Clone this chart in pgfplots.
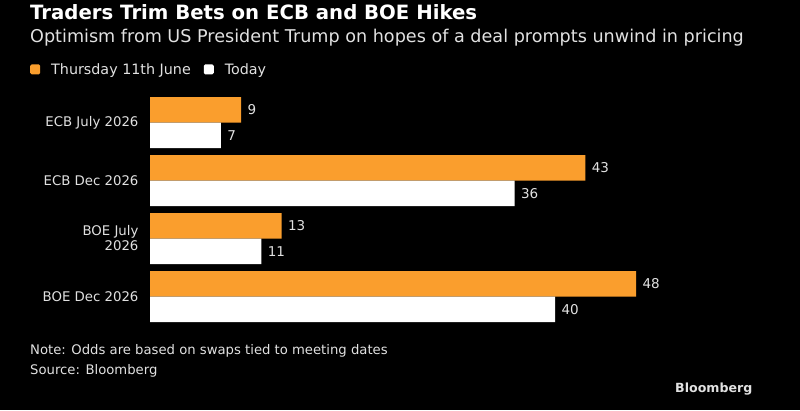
\documentclass[border=0pt]{standalone}
\usepackage{pgfplots}
\pgfplotsset{compat=1.18}
\usepackage{fontspec}
\setmainfont{DejaVu Sans}
\definecolor{bbgorange}{RGB}{250,158,45}
\definecolor{lightgrey}{RGB}{225,225,225}

\pgfplotstableread{
pos thursday today
3   9        7
2   43       36
1   13       11
0   48       40
}\hikes

\begin{document}
\begin{tikzpicture}[x=1pt,y=1pt]
\fill[black] (0,0) rectangle (800,410);

\node[anchor=base west, inner sep=0, text=white, font=\fontsize{19.7}{22}\selectfont\bfseries] at (30,390) {Traders Trim Bets on ECB and BOE Hikes};
\node[anchor=base west, inner sep=0, text=lightgrey, font=\fontsize{17.6}{20}\selectfont] at (30,367) {Optimism from US President Trump on hopes of a deal prompts unwind in pricing};

\begin{axis}[
  at={(150pt,84.5pt)}, anchor=south west,
  scale only axis, width=486pt, height=232pt,
  xmin=0, xmax=48, ymin=-0.5, ymax=3.5,
  xbar, bar width=25.5pt,
  axis line style={draw=none},
  xtick=\empty,
  ytick={0,1,2,3},
  yticklabels={BOE Dec 2026, {BOE July\\2026}, ECB Dec 2026, ECB July 2026},
  major tick length=0pt,
  yticklabel style={align=right, text=lightgrey, font=\fontsize{13.3}{15}\selectfont, xshift=-8pt},
  clip=false,
  /pgf/number format/assume math mode=true,
  nodes near coords,
  nodes near coords style={text=lightgrey, font=\fontsize{13.5}{15}\selectfont, anchor=west, xshift=3pt},
  legend columns=2,
  legend style={at={(axis cs:-11.85,3.915)}, anchor=west, draw=none, fill=black,
    text=lightgrey, font=\fontsize{14.3}{16}\selectfont, inner sep=0pt,
    /tikz/every odd column/.append style={column sep=9pt},
    /tikz/every even column/.append style={column sep=11pt}},
  legend cell align=left,
  legend image code/.code={\fill[rounded corners=1.5pt] (0pt,-5pt) rectangle (10pt,5pt);},
]
\addplot[fill=bbgorange, draw=none, bar shift=12.75pt] table[x=thursday, y=pos] {\hikes};
\addplot[fill=white, draw=none, bar shift=-12.75pt] table[x=today, y=pos] {\hikes};
\legend{Thursday 11th June, Today}
\end{axis}

\node[anchor=base west, inner sep=0, text=lightgrey, font=\fontsize{13.2}{15}\selectfont] at (30,56) {Note: Odds are based on swaps tied to meeting dates};
\node[anchor=base west, inner sep=0, text=lightgrey, font=\fontsize{13.2}{15}\selectfont] at (30,36) {Source: Bloomberg};
\node[anchor=base west, inner sep=0, text=lightgrey, font=\fontsize{12.6}{15}\selectfont\bfseries] at (675,18) {Bloomberg};
\end{tikzpicture}
\end{document}
